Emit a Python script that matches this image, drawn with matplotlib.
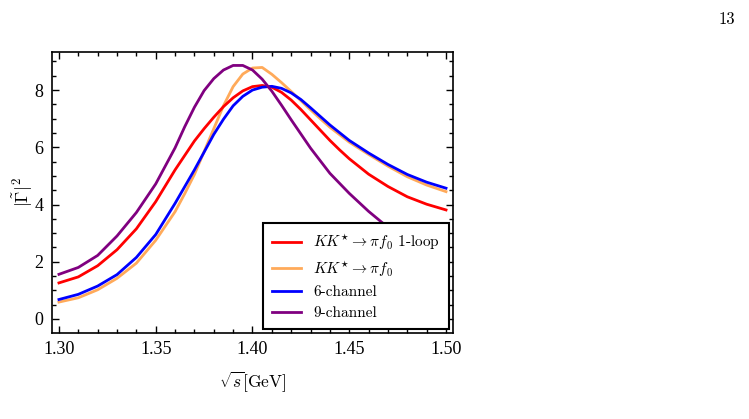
import numpy as np
import matplotlib
matplotlib.use("Agg")
import matplotlib.pyplot as plt
from matplotlib.ticker import MultipleLocator, FormatStrFormatter

# values (finer steps where the curves bend)
x_red = [1.30, 1.31, 1.32, 1.33, 1.34, 1.35, 1.36, 1.37, 1.375, 1.38, 1.385, 1.39,
         1.395, 1.40, 1.405, 1.41, 1.415, 1.42, 1.425, 1.43, 1.435, 1.44, 1.445,
         1.45, 1.46, 1.47, 1.48, 1.49, 1.50]
y_red = [1.26, 1.47, 1.86, 2.42, 3.15, 4.10, 5.21, 6.22, 6.65, 7.05, 7.42, 7.73,
         7.97, 8.12, 8.16, 8.10, 7.92, 7.65, 7.32, 6.96, 6.60, 6.24, 5.91,
         5.60, 5.06, 4.63, 4.27, 4.01, 3.81]

x_orange = [1.30, 1.31, 1.32, 1.33, 1.34, 1.35, 1.36, 1.365, 1.37, 1.375, 1.38, 1.385,
            1.39, 1.395, 1.40, 1.405, 1.41, 1.415, 1.42, 1.425, 1.43, 1.435, 1.44,
            1.45, 1.46, 1.47, 1.48, 1.49, 1.50]
y_orange = [0.59, 0.74, 1.02, 1.42, 1.95, 2.75, 3.75, 4.38, 5.05, 5.85, 6.65, 7.45,
            8.12, 8.56, 8.77, 8.79, 8.55, 8.26, 7.95, 7.63, 7.31, 7.00, 6.70,
            6.18, 5.75, 5.34, 4.97, 4.68, 4.45]

x_blue = [1.30, 1.31, 1.32, 1.33, 1.34, 1.35, 1.36, 1.37, 1.38, 1.385, 1.39, 1.395,
          1.40, 1.405, 1.41, 1.415, 1.42, 1.425, 1.43, 1.435, 1.44, 1.45, 1.46,
          1.47, 1.48, 1.49, 1.50]
y_blue = [0.68, 0.86, 1.15, 1.55, 2.15, 2.95, 4.04, 5.21, 6.45, 6.98, 7.45, 7.78,
          8.00, 8.10, 8.13, 8.06, 7.90, 7.67, 7.38, 7.08, 6.78, 6.24, 5.80,
          5.40, 5.05, 4.78, 4.57]

x_purple = [1.30, 1.31, 1.32, 1.33, 1.34, 1.35, 1.36, 1.365, 1.37, 1.375, 1.38, 1.385,
            1.39, 1.395, 1.40, 1.405, 1.41, 1.415, 1.42, 1.43, 1.44, 1.45, 1.46,
            1.47, 1.48, 1.49, 1.50]
y_purple = [1.56, 1.80, 2.22, 2.90, 3.72, 4.72, 5.98, 6.72, 7.40, 7.98, 8.40, 8.70,
            8.86, 8.86, 8.70, 8.38, 7.96, 7.47, 6.96, 5.97, 5.09, 4.39, 3.76,
            3.20, 2.70, 2.28, 1.92]

labels = [r"$KK^{\star}\rightarrow\pi f_0$ 1-loop", r"$KK^{\star}\rightarrow\pi f_0$",
          "6-channel", "9-channel"]

plt.rcParams["mathtext.fontset"] = "cm"
plt.rcParams["font.family"] = "serif"
plt.rcParams["font.serif"] = ["Liberation Serif", "DejaVu Serif"]

fig = plt.figure(figsize=(7.49, 4.19), dpi=100)
ax = fig.add_axes([0.0694, 0.2053, 0.5354, 0.6706])

lw = 2.0
ax.plot(x_red, y_red, color="#ff0000", lw=lw, label=labels[0], zorder=3)
ax.plot(x_orange, y_orange, color="#ffaa5a", lw=lw, label=labels[1], zorder=2)
ax.plot(x_blue, y_blue, color="#0000ff", lw=lw, label=labels[2], zorder=4)
ax.plot(x_purple, y_purple, color="#800080", lw=lw, label=labels[3], zorder=5)

ax.set_xlim(1.2964, 1.5036)
ax.set_ylim(-0.49, 9.33)
ax.xaxis.set_major_locator(MultipleLocator(0.05))
ax.xaxis.set_minor_locator(MultipleLocator(0.01))
ax.yaxis.set_major_locator(MultipleLocator(2))
ax.yaxis.set_minor_locator(MultipleLocator(0.5))
ax.xaxis.set_major_formatter(FormatStrFormatter("%.2f"))
ax.yaxis.set_major_formatter(FormatStrFormatter("%d"))
ax.tick_params(which="both", direction="in", top=True, right=True, width=1.0)
ax.tick_params(which="major", length=5, labelsize=13, pad=6)
ax.tick_params(which="minor", length=3)
for s in ax.spines.values():
    s.set_linewidth(1.2)

ax.set_xlabel(r"$\sqrt{s}$[GeV]", fontsize=12.5, labelpad=8, family="cmr10")
ax.set_ylabel(r"$|\tilde{\Gamma}|^2$", fontsize=13, labelpad=0)

leg = ax.legend(loc="lower right", prop={"family": "cmr10", "size": 11},
                frameon=True, fancybox=False, edgecolor="black", framealpha=1.0,
                borderaxespad=0.25, handlelength=1.9, labelspacing=0.45,
                borderpad=0.6)
leg.get_frame().set_linewidth(1.5)
leg.set_zorder(10)

fig.text(0.981, 0.955, "13", fontsize=12, ha="right", va="center", family="cmr10")

fig.savefig("out.png", dpi=100)
